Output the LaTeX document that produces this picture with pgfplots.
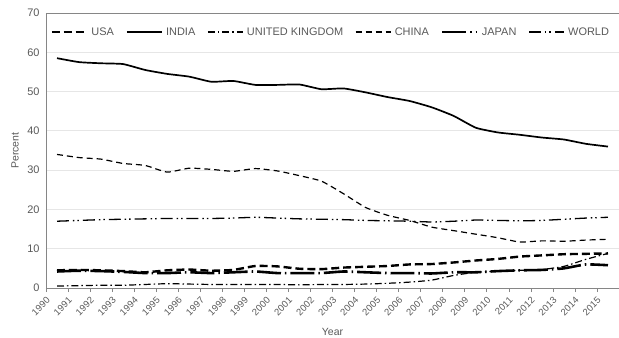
\documentclass[border=0pt]{standalone}
\usepackage{fontspec}
\setmainfont{Liberation Sans}
\usepackage{pgfplots}
\usepackage{pgfplotstable}
\pgfplotsset{compat=1.18}
\definecolor{txt}{HTML}{595959}
\definecolor{gridc}{HTML}{E6E6E6}
\definecolor{axc}{HTML}{868686}

\pgfplotstableread{
x year usa india uk china japan world
0 1990 4.5 58.5 0.5 34.0 4.2 17.0
1 1991 4.6 57.5 0.6 33.2 4.4 17.2
2 1992 4.5 57.2 0.7 32.8 4.3 17.4
3 1993 4.3 57.0 0.7 31.7 4.1 17.5
4 1994 4.0 55.5 0.9 31.2 3.8 17.6
5 1995 4.5 54.5 1.1 29.5 3.8 17.7
6 1996 4.7 53.8 1.0 30.5 4.0 17.7
7 1997 4.4 52.5 0.9 30.2 3.8 17.7
8 1998 4.6 52.7 0.9 29.7 4.0 17.8
9 1999 5.6 51.7 0.9 30.4 4.2 18.0
10 2000 5.5 51.7 0.9 29.8 3.8 17.8
11 2001 4.9 51.8 0.8 28.6 3.8 17.6
12 2002 4.8 50.6 0.9 27.2 3.8 17.5
13 2003 5.2 50.8 0.9 24.0 4.2 17.4
14 2004 5.4 49.8 1.0 20.5 4.0 17.2
15 2005 5.6 48.6 1.2 18.5 3.8 17.1
16 2006 6.0 47.6 1.5 17.2 3.8 17.0
17 2007 6.1 46.0 2.0 15.5 3.7 16.8
18 2008 6.5 43.8 3.2 14.6 4.0 17.0
19 2009 7.0 40.8 4.0 13.7 4.0 17.3
20 2010 7.4 39.6 4.3 12.8 4.3 17.2
21 2011 8.0 39.0 4.5 11.7 4.5 17.1
22 2012 8.3 38.3 4.7 12.0 4.6 17.2
23 2013 8.6 37.8 5.5 11.9 5.0 17.5
24 2014 8.7 36.7 7.3 12.2 6.0 17.8
25 2015 8.8 36.0 8.8 12.4 5.8 18.0
}\data

\begin{document}
\begin{tikzpicture}
\begin{axis}[
  at={(0,0)}, anchor=south west,
  scale only axis,
  width=573bp, height=275bp,
  xmin=-0.5, xmax=25.5,
  ymin=0, ymax=70,
  axis x line=bottom, axis y line=left,
  axis line style={axc, line width=0.8pt, -},
  xtick=data,
  xticklabels from table={\data}{year},
  minor xtick={-0.5,0.5,...,25.5},
  major tick length=0pt, minor tick length=4bp,
  tick align=outside,
  minor tick style={axc, line width=0.6pt},
  ytick={0,10,...,60},
  extra y ticks={70},
  extra y tick style={grid style={axc, line width=0.8pt}},
  ymajorgrids,
  grid style={gridc, line width=0.8pt},
  ytick style={draw=none},
  xticklabel style={xshift=-8bp, yshift=-10bp, rotate=45, anchor=east, font=\fontsize{9.5}{10}\selectfont, text=txt, inner sep=1pt},
  yticklabel style={font=\fontsize{11}{12}\selectfont, text=txt, xshift=-3pt},
  /pgf/number format/assume math mode=true,
  xlabel={Year}, ylabel={Percent},
  xlabel style={at={(axis description cs:0.5,-0.16)}, anchor=center, font=\fontsize{10.5}{11}\selectfont, text=txt},
  ylabel style={at={(axis description cs:-0.054,0.5)}, anchor=center, rotate=0, font=\fontsize{10.5}{11}\selectfont, text=txt},
  legend columns=6,
  legend style={at={(axis description cs:0.497,0.931)}, anchor=center, draw=none, fill=none,
    font=\fontsize{11}{12}\selectfont, text=txt,
    /tikz/every even column/.append style={column sep=10pt},
    /tikz/every odd column/.append style={column sep=1.5pt}},
  legend image code/.code={\draw[#1] (0bp,0bp) -- (35bp,0bp);},
  every axis plot/.append style={smooth, tension=0.3, black},
]
\addplot[line width=2.4pt, dash pattern=on 8pt off 4pt] table[x=x,y=usa]{\data};
\addlegendentry{USA}
\addplot[line width=1.7pt] table[x=x,y=india]{\data};
\addlegendentry{INDIA}
\addplot[line width=1.2pt, dash pattern=on 7pt off 3pt on 1.5pt off 3pt] table[x=x,y=uk]{\data};
\addlegendentry{UNITED KINGDOM}
\addplot[line width=1.2pt, dash pattern=on 6pt off 4pt] table[x=x,y=china]{\data};
\addlegendentry{CHINA}
\addplot[line width=2.6pt, dash pattern=on 24pt off 4pt on 1.5pt off 4pt] table[x=x,y=japan]{\data};
\addlegendentry{JAPAN}
\addplot[line width=1.3pt, dash pattern=on 12pt off 4pt on 1.5pt off 3pt on 1.5pt off 4pt] table[x=x,y=world]{\data};
\addlegendentry{WORLD}
\end{axis}
\pgfresetboundingbox
\useasboundingbox (-46bp,-50bp) rectangle (573bp,288bp);
\end{tikzpicture}
\end{document}
